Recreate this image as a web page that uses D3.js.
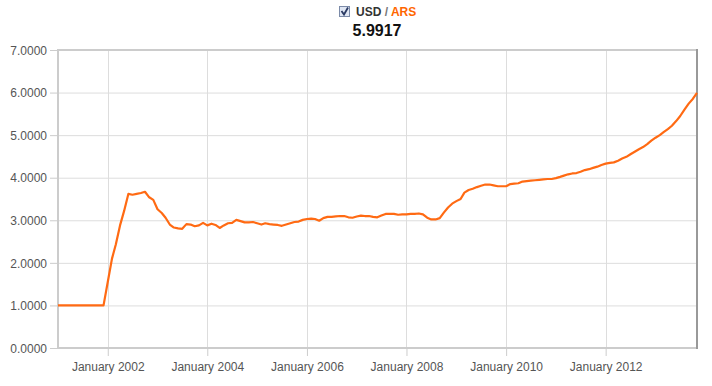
<!DOCTYPE html>
<html lang="en">
<head>
    <meta charset="UTF-8">
    <title>USD / ARS</title>
    <script src="https://d3js.org/d3.v7.min.js"></script>
    <style>
        body { margin: 0; background: #fff; font-family: Arial, "Liberation Sans", sans-serif; }
        .tick text { fill: #555; font-size: 12px; }
        .grid line { stroke: #ddd; stroke-width: 1; }
    </style>
</head>
<body>
    <svg width="712" height="386"></svg>

    <script>
        // monthly rate, Jan 2001 .. Nov 2013
        const startMonth = new Date(2001, 0, 1);
        const rates = [
            1.0, 1.0, 1.0, 1.0, 1.0, 1.0, 1.0, 1.0, 1.0, 1.0, 1.0, 1.0,
            1.55, 2.1, 2.43, 2.88, 3.22, 3.62, 3.6, 3.62, 3.64, 3.67, 3.54, 3.48,
            3.26, 3.17, 3.06, 2.9, 2.83, 2.81, 2.8, 2.91, 2.9, 2.86, 2.88, 2.94,
            2.88, 2.92, 2.89, 2.82, 2.88, 2.93, 2.94, 3.01, 2.98, 2.95, 2.95, 2.96,
            2.93, 2.9, 2.93, 2.91, 2.9, 2.89, 2.87, 2.9, 2.93, 2.96, 2.97, 3.01,
            3.03, 3.04, 3.03, 2.99, 3.05, 3.08, 3.08, 3.09, 3.1, 3.1, 3.07, 3.06,
            3.09, 3.11, 3.1, 3.1, 3.08, 3.07, 3.11, 3.15, 3.15, 3.15, 3.13, 3.14,
            3.14, 3.15, 3.15, 3.16, 3.14, 3.06, 3.02, 3.02, 3.05, 3.18, 3.3, 3.39,
            3.45, 3.5, 3.65, 3.71, 3.74, 3.78, 3.81, 3.84, 3.84, 3.82, 3.8, 3.8,
            3.8, 3.85, 3.86, 3.87, 3.91, 3.92, 3.93, 3.94, 3.95, 3.96, 3.97, 3.97,
            3.99, 4.02, 4.05, 4.08, 4.1, 4.11, 4.14, 4.18, 4.2, 4.23, 4.26, 4.3,
            4.33, 4.35, 4.36, 4.4, 4.45, 4.49, 4.55, 4.61, 4.67, 4.72, 4.79, 4.87,
            4.94, 5.0, 5.07, 5.14, 5.22, 5.33, 5.45, 5.6, 5.74, 5.85, 5.9917
        ];
        const yTicks = [0, 1, 2, 3, 4, 5, 6, 7];
        const xTickYears = [2002, 2004, 2006, 2008, 2010, 2012];
        const lastValue = "5.9917";

        const data = rates.map((v, i) => ({
            date: new Date(2001, i, 1),
            value: v
        }));

        const svg = d3.select("svg");
        const margin = { left: 58, right: 697, top: 50, bottom: 348 };

        const x = d3.scaleTime()
            .domain([startMonth, data[data.length - 1].date])
            .range([margin.left, margin.right]);
        const y = d3.scaleLinear()
            .domain([0, 7])
            .range([margin.bottom, margin.top]);

        // header
        const head = svg.append("g");
        head.append("rect")
            .attr("x", 339.5).attr("y", 6.5)
            .attr("width", 10).attr("height", 10)
            .attr("fill", "#dfe6f3").attr("stroke", "#7b8aa8");
        head.append("path")
            .attr("d", "M341.5,11 L344,14.5 L348,7.5")
            .attr("fill", "none").attr("stroke", "#2a3a63").attr("stroke-width", 1.8);
        const title = head.append("text")
            .attr("x", 356).attr("y", 16)
            .style("font-size", "12px").style("font-weight", "bold");
        title.append("tspan").attr("fill", "#333").text("USD");
        title.append("tspan").attr("fill", "#777").text(" / ");
        title.append("tspan").attr("fill", "#ff6600").text("ARS");
        head.append("text")
            .attr("x", 377).attr("y", 36)
            .attr("text-anchor", "middle")
            .style("font-size", "16px").style("font-weight", "bold")
            .attr("fill", "#111")
            .text(lastValue);

        // grid
        svg.append("g").attr("class", "grid")
            .selectAll("line.h")
            .data(yTicks)
            .enter().append("line")
            .attr("x1", margin.left).attr("x2", margin.right)
            .attr("y1", d => y(d) + 0.5).attr("y2", d => y(d) + 0.5);
        svg.append("g").attr("class", "grid")
            .selectAll("line.v")
            .data(xTickYears)
            .enter().append("line")
            .attr("x1", d => Math.round(x(new Date(d, 0, 1))) + 0.5)
            .attr("x2", d => Math.round(x(new Date(d, 0, 1))) + 0.5)
            .attr("y1", margin.top).attr("y2", margin.bottom);

        // axes
        const yAxis = svg.append("g")
            .attr("transform", `translate(${margin.left},0)`)
            .call(d3.axisLeft(y).tickValues(yTicks).tickSize(8).tickPadding(3)
                .tickFormat(d3.format(".4f")));
        yAxis.select(".domain").remove();
        yAxis.selectAll(".tick line").attr("stroke", "#ccc").attr("stroke-width", 1);
        yAxis.selectAll(".tick text").style("font-family", "Arial, 'Liberation Sans', sans-serif").attr("dy", "0.35em");

        const xAxis = svg.append("g")
            .attr("transform", `translate(0,${margin.bottom})`)
            .call(d3.axisBottom(x)
                .tickValues(xTickYears.map(yr => new Date(yr, 0, 1)))
                .tickSize(8).tickPadding(6)
                .tickFormat(d3.timeFormat("January %Y")));
        xAxis.select(".domain").remove();
        xAxis.selectAll(".tick line").attr("stroke", "#ccc").attr("stroke-width", 1);
        xAxis.selectAll(".tick text").style("font-family", "Arial, 'Liberation Sans', sans-serif");

        // frame
        svg.append("line")
            .attr("x1", margin.left).attr("x2", margin.right)
            .attr("y1", margin.top).attr("y2", margin.top)
            .attr("stroke", "#ccc").attr("stroke-width", 2);
        svg.append("line")
            .attr("x1", margin.left).attr("x2", margin.left)
            .attr("y1", margin.top - 1).attr("y2", margin.bottom + 1)
            .attr("stroke", "#ccc").attr("stroke-width", 2);
        svg.append("line")
            .attr("x1", margin.left).attr("x2", margin.right)
            .attr("y1", margin.bottom).attr("y2", margin.bottom)
            .attr("stroke", "#ccc").attr("stroke-width", 2);
        svg.append("line")
            .attr("x1", margin.right).attr("x2", margin.right)
            .attr("y1", margin.top - 1).attr("y2", margin.bottom + 1)
            .attr("stroke", "#999").attr("stroke-width", 2);

        // line
        const line = d3.line()
            .x(d => x(d.date))
            .y(d => y(d.value));
        svg.append("path")
            .datum(data)
            .attr("fill", "none")
            .attr("stroke", "#ff6a13")
            .attr("stroke-width", 2.2)
            .attr("stroke-linejoin", "round")
            .attr("d", line);
    </script>
</body>
</html>
